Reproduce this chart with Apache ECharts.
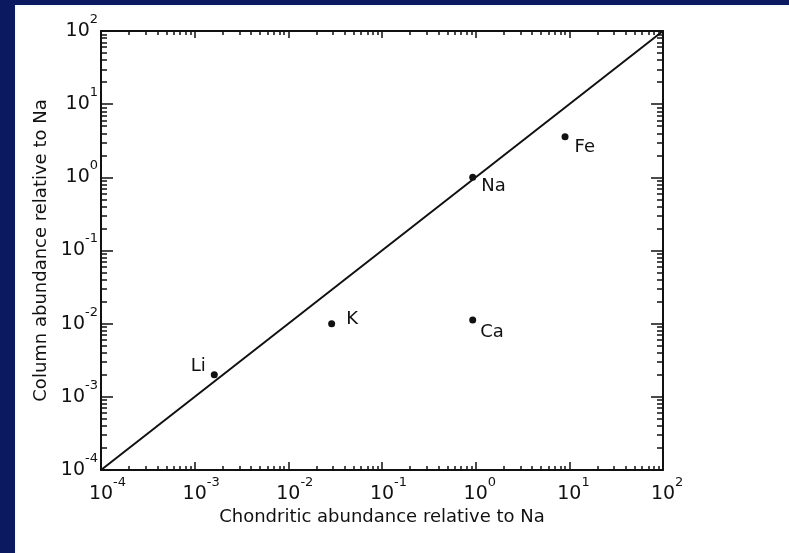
<!DOCTYPE html>
<html>
<head>
<meta charset="utf-8">
<script src="https://cdn.jsdelivr.net/npm/echarts@6/dist/echarts.min.js"></script>
<style>
  html, body { margin: 0; padding: 0; background: #0b1960; overflow: hidden; }
  #frame { position: absolute; left: 15px; top: 5px; width: 774px; height: 548px; background: #ffffff; }
  #chart { position: absolute; left: 0; top: 0; width: 789px; height: 553px; }
</style>
</head>
<body>
<div id="frame"></div>
<div id="chart"></div>
<script>
// Abundances of each element, normalised to sodium
const elements = ['Li', 'K', 'Na', 'Ca', 'Fe'];
const chondriticAbundance = [1.62e-3, 0.029, 0.93, 0.93, 9.0];
const columnAbundance = [2.0e-3, 0.010, 1.0, 0.0112, 3.6];

// Decade exponents used for ticks and labels on both axes
const decadeExponents = [-4, -3, -2, -1, 0, 1, 2];

// End points of the 1:1 reference line
const unityLine = [1e-4, 1e2];

const FONT = 'DejaVu Sans';
const INK = '#111111';

const decadeValues = decadeExponents.map(e => Math.pow(10, e));
const minorValues = [];
decadeExponents.slice(0, -1).forEach(e => {
  for (let m = 2; m <= 9; m++) minorValues.push(m * Math.pow(10, e));
});

// Per-label placement next to each marker
const labelPlacement = {
  Li: { position: 'left', offset: [-1, -8] },
  K:  { position: 'right', offset: [7, -4] },
  Na: { position: 'right', offset: [1, 9] },
  Ca: { position: 'right', offset: [0, 12] },
  Fe: { position: 'right', offset: [2, 11] }
};

const powerRich = {
  b: { fontSize: 19, fontFamily: FONT, color: INK },
  e: { fontSize: 13, fontFamily: FONT, color: INK, padding: [0, 0, 23, 0] },
  g: { fontSize: 13, fontFamily: FONT, color: 'rgba(0,0,0,0)', padding: [0, 0, 23, 0] }
};
const expOf = v => Math.round(Math.log10(v));

function logAxis(position, opts) {
  return Object.assign({
    type: 'log',
    logBase: 10,
    min: 1e-4,
    max: 1e2,
    position: position,
    gridIndex: 0,
    splitLine: { show: false },
    axisLine: { show: false },
    axisLabel: { show: false },
    axisTick: { show: false }
  }, opts);
}

const tickStyle = { color: INK, width: 1.5 };

const option = {
  animation: false,
  backgroundColor: 'transparent',
  grid: { left: 101, right: 126, top: 31, bottom: 83, containLabel: false },
  xAxis: [
    logAxis('bottom', {
      name: 'Chondritic abundance relative to Na',
      nameLocation: 'middle',
      nameGap: 32,
      nameTextStyle: { fontSize: 18, fontFamily: FONT, color: INK },
      axisLine: { show: true, lineStyle: { color: INK, width: 2 } },
      axisTick: { show: true, inside: true, length: 8, customValues: decadeValues, lineStyle: tickStyle },
      axisLabel: {
        show: true,
        customValues: decadeValues,
        margin: 6,
        formatter: v => { const e = expOf(v); return '{g|' + e + '}{b|10}{e|' + e + '}'; },
        rich: powerRich
      }
    }),
    logAxis('top', {
      axisLine: { show: true, lineStyle: { color: INK, width: 2 } },
      axisTick: { show: true, inside: true, length: 7, customValues: decadeValues, lineStyle: tickStyle }
    }),
    logAxis('bottom', {
      axisTick: { show: true, inside: true, length: 4, customValues: minorValues, lineStyle: tickStyle }
    }),
    logAxis('top', {
      axisTick: { show: true, inside: true, length: 4, customValues: minorValues, lineStyle: tickStyle }
    })
  ],
  yAxis: [
    logAxis('left', {
      name: 'Column abundance relative to Na',
      nameLocation: 'middle',
      nameGap: 43,
      nameTextStyle: { fontSize: 18, fontFamily: FONT, color: INK },
      axisLine: { show: true, lineStyle: { color: INK, width: 2 } },
      axisTick: { show: true, inside: true, length: 12, customValues: decadeValues, lineStyle: tickStyle },
      axisLabel: {
        show: true,
        customValues: decadeValues,
        margin: 3,
        formatter: v => '{b|10}{e|' + expOf(v) + '}',
        rich: powerRich
      }
    }),
    logAxis('right', {
      axisLine: { show: true, lineStyle: { color: INK, width: 2 } },
      axisTick: { show: true, inside: true, length: 12, customValues: decadeValues, lineStyle: tickStyle }
    }),
    logAxis('left', {
      axisTick: { show: true, inside: true, length: 6, customValues: minorValues, lineStyle: tickStyle }
    }),
    logAxis('right', {
      axisTick: { show: true, inside: true, length: 6, customValues: minorValues, lineStyle: tickStyle }
    })
  ],
  series: [
    {
      type: 'line',
      xAxisIndex: 0,
      yAxisIndex: 0,
      data: [[unityLine[0], unityLine[0]], [unityLine[1], unityLine[1]]],
      showSymbol: false,
      symbol: 'none',
      lineStyle: { color: INK, width: 2 },
      silent: true
    },
    {
      type: 'scatter',
      xAxisIndex: 0,
      yAxisIndex: 0,
      symbol: 'circle',
      symbolSize: 7,
      itemStyle: { color: INK, opacity: 1 },
      data: elements.map((name, i) => ({
        name: name,
        value: [chondriticAbundance[i], columnAbundance[i]],
        label: Object.assign({
          show: true,
          formatter: '{b}',
          fontSize: 18,
          fontFamily: FONT,
          color: INK,
          opacity: 1,
          distance: 4
        }, labelPlacement[name])
      }))
    }
  ]
};

const chart = echarts.init(document.getElementById('chart'), null, { renderer: 'canvas' });
chart.setOption(option);
</script>
</body>
</html>
